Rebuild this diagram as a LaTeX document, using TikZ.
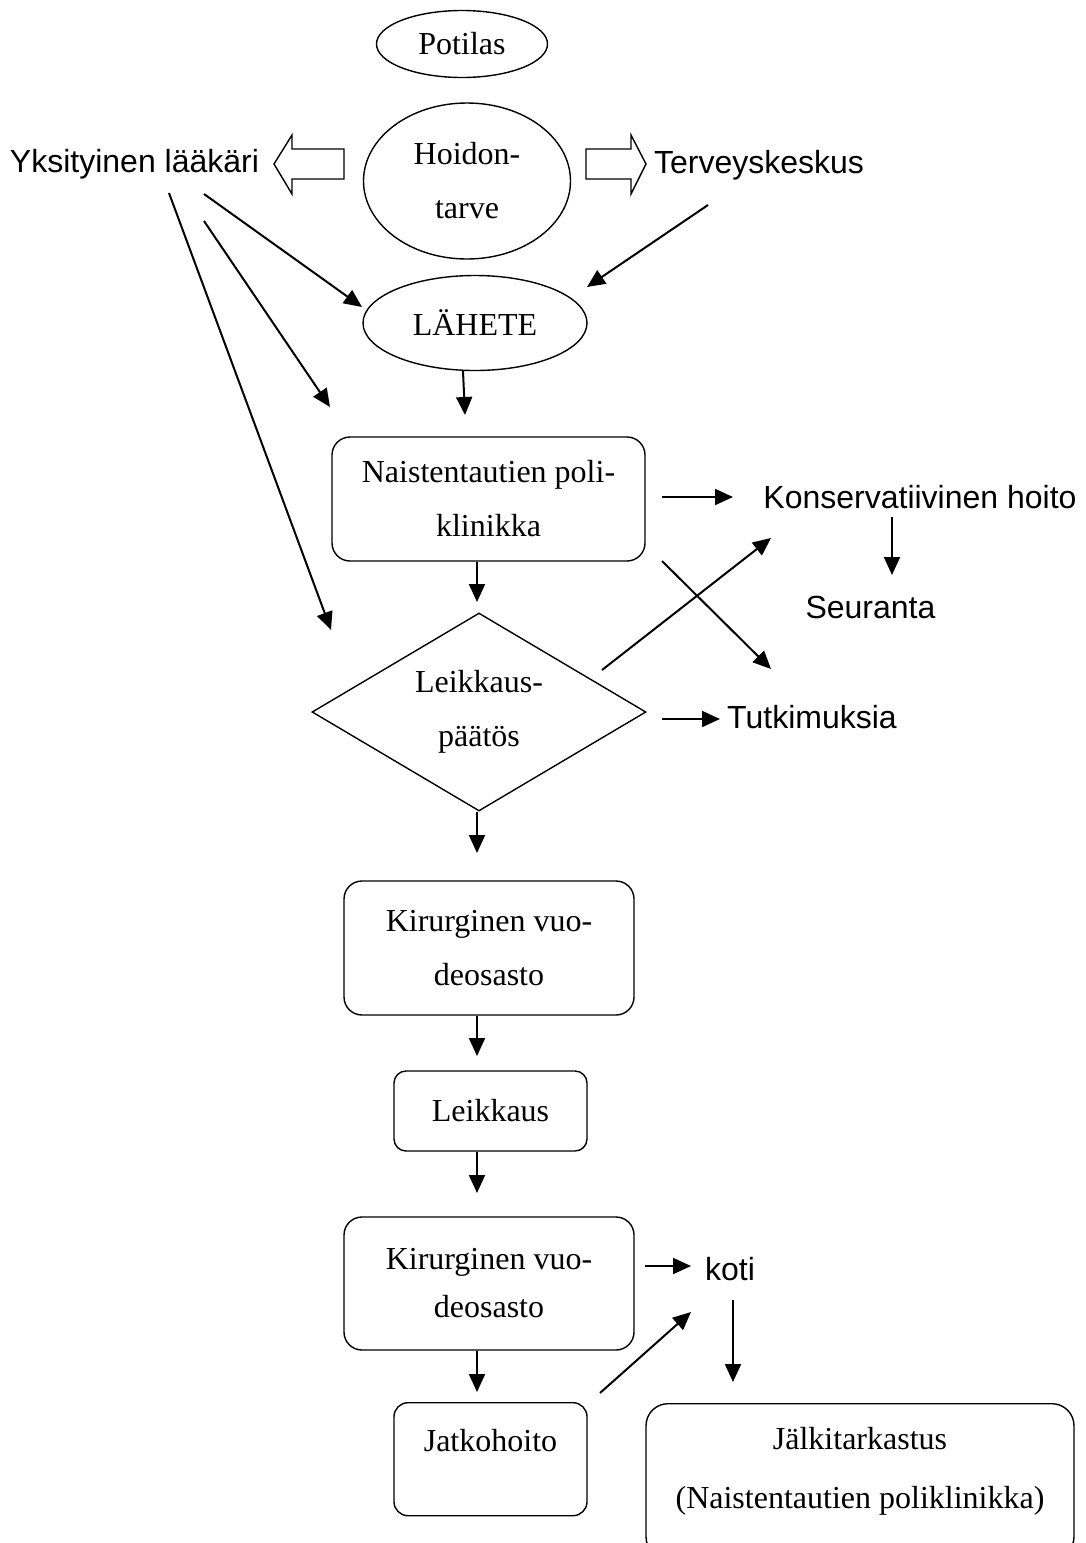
\documentclass[tikz,border=0pt]{standalone}
\usepackage{fontspec}
\setmainfont{Liberation Serif}
\setsansfont{Liberation Sans}
\usetikzlibrary{shapes.geometric,arrows.meta}
\tikzset{
  oval/.style={draw,ellipse,inner sep=0pt,line width=0.7pt,align=center},
  rbox/.style={draw,rectangle,rounded corners=9pt,inner sep=0pt,line width=0.7pt,align=center},
  decision/.style={draw,diamond,aspect=1.7,inner sep=0pt,line width=0.7pt,align=center},
  sanstext/.style={font=\sffamily\fontsize{16pt}{19pt}\selectfont,inner sep=0pt},
}
\begin{document}
\begin{tikzpicture}[x=0.5pt,y=-0.5pt,font=\fontsize{16pt}{27pt}\selectfont]
      \clip (0,0) rectangle (1086,1543);
      \draw
        (462,44) node[oval,minimum width=85.5pt,minimum height=33.5pt] (pot){Potilas}
        (467,181) node[oval,minimum width=103.5pt,minimum height=78pt] (hoid){Hoidon-\\tarve}
        (475,323) node[oval,minimum width=112pt,minimum height=47.5pt] (lah){LÄHETE}
        (488.5,499) node[rbox,minimum width=156.5pt,minimum height=62pt] (nais){Naistentautien poli-\\klinikka}
        (479,712) node[decision,minimum width=167pt,minimum height=99pt] (dec){Leikkaus-\\päätös}
        (489,948) node[rbox,minimum width=145pt,minimum height=67pt] (kir1){Kirurginen vuo-\\deosasto}
        (490.5,1111) node[rbox,rounded corners=6pt,minimum width=96.5pt,minimum height=40pt] (leik){Leikkaus}
        (489,1283.5) node[rbox,minimum width=145pt,minimum height=66.5pt] (kir2){Kirurginen vuo-\\[-3pt]deosasto}
        (490.5,1402) node[rbox,rounded corners=7pt,anchor=north,minimum width=96.5pt,text height=24.5pt,text depth=32pt] (jatko){Jatkohoito}
        (860,1403) node[rbox,rounded corners=11pt,anchor=north,minimum width=214pt,text height=52.5pt,text depth=25pt] (jalki){Jälkitarkastus\\[2.5pt](Naistentautien poliklinikka)}
        (134.5,164) node[sanstext] (yks){Yksityinen lääkäri}
        (759,165) node[sanstext] (terv){Terveyskeskus}
        (920,497) node[sanstext] (kons){Konservatiivinen hoito}
        (870.5,607) node[sanstext] (seur){Seuranta}
        (812,717) node[sanstext] (tutk){Tutkimuksia}
        (730,1269) node[sanstext] (koti){koti};
      \draw[line width=0.7pt] (344,149) -- (292,149) -- (292,135) -- (274,164)
        -- (292,194) -- (292,179) -- (344,179) -- cycle;
      \draw[line width=0.7pt] (586,149) -- (631,149) -- (631,135) -- (646,164)
        -- (631,194) -- (631,179) -- (586,179) -- cycle;
      \coordinate (colx) at (477,0);
      \coordinate (yksA) at (204,194);
      \coordinate (yksAend) at (362,307);
      \coordinate (yksB) at (204,221);
      \coordinate (yksBend) at (330,407);
      \coordinate (yksC) at (169,193);
      \coordinate (yksCend) at (331,630);
      \coordinate (terv1) at (708,205);
      \coordinate (terv1end) at (587,287);
      \coordinate (lahend) at (465,415);
      \coordinate (decin) at (477,602);
      \coordinate (nais1) at (662,497);
      \coordinate (konsin) at (733,497);
      \coordinate (kons1) at (892,517);
      \coordinate (seurin) at (892,575);
      \coordinate (dec1) at (602,670);
      \coordinate (konsin2) at (771,538);
      \coordinate (nais2) at (662,561);
      \coordinate (tutkin) at (771,669);
      \coordinate (dec2) at (662,719);
      \coordinate (tutkin2) at (720,719);
      \coordinate (kir1in) at (477,853);
      \coordinate (leikin) at (477,1056);
      \coordinate (kir2in) at (477,1193);
      \coordinate (jatkoin) at (477,1392);
      \coordinate (kir2out) at (645,1266);
      \coordinate (kotiin) at (691,1266);
      \coordinate (jatkoout) at (600,1393);
      \coordinate (kotiin2) at (691,1312);
      \coordinate (koti1) at (733,1300);
      \coordinate (jalkiin) at (733,1382);
      \begin{scope}[-{Triangle[length=9pt,width=8pt]},line width=1pt]
        \draw (yksA) to (yksAend);
        \draw (yksB) to (yksBend);
        \draw (yksC) to (yksCend);
        \draw (terv1) to (terv1end);
        \draw ([xshift=-6pt]lah.south) to (lahend);
        \draw (nais.south -| colx) to (decin);
        \draw (nais1) to (konsin);
        \draw (kons1) to (seurin);
        \draw (dec1) to (konsin2);
        \draw (nais2) to (tutkin);
        \draw (dec2) to (tutkin2);
        \draw (dec.south -| colx) to (kir1in);
        \draw (kir1.south -| colx) to (leikin);
        \draw (leik.south -| colx) to (kir2in);
        \draw (kir2.south -| colx) to (jatkoin);
        \draw (kir2out) to (kotiin);
        \draw (jatkoout) to (kotiin2);
        \draw (koti1) to (jalkiin);
      \end{scope}
    \end{tikzpicture}
\end{document}
